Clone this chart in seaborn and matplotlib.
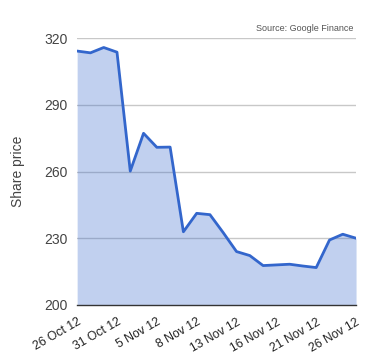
import matplotlib
matplotlib.use("Agg")
import matplotlib.pyplot as plt
import numpy as np
import pandas as pd
import seaborn as sns

sns.set_theme(style="white")
plt.rcParams['font.family'] = ['Liberation Sans', 'DejaVu Sans']

# trading days, labelled every third point
day_labels = ["26 Oct 12", "29 Oct 12", "30 Oct 12", "31 Oct 12", "1 Nov 12", "2 Nov 12",
              "5 Nov 12", "6 Nov 12", "7 Nov 12", "8 Nov 12", "9 Nov 12", "12 Nov 12",
              "13 Nov 12", "14 Nov 12", "15 Nov 12", "16 Nov 12", "19 Nov 12", "20 Nov 12",
              "21 Nov 12", "23 Nov 12", "24 Nov 12", "26 Nov 12"]
prices = [314.2, 313.4, 315.8, 313.7, 260.2, 277.2, 270.9, 271.0, 232.9, 241.2, 240.6,
          232.5, 224.0, 222.2, 217.7, 218.0, 218.3, 217.5, 216.8, 229.2, 231.8, 230.0]
y_ticks = [200, 230, 260, 290, 320]

df = pd.DataFrame({"idx": np.arange(len(prices)), "price": prices})

fig = plt.figure(figsize=(3.8, 3.6), dpi=100)
ax = fig.add_axes([0.203, 0.153, 0.734, 0.741])

for t in y_ticks[1:]:
    ax.axhline(t, color="#c8c8c8", lw=1, zorder=0)

ax.fill_between(df["idx"], 200, df["price"], color="#3366cc", alpha=0.3, lw=0, zorder=1)
sns.lineplot(data=df, x="idx", y="price", color="#3366cc", lw=2, ax=ax, zorder=2)

ax.set_xlim(0, len(prices) - 1)
ax.set_ylim(200, 320)
ax.set_yticks(y_ticks)
ax.set_yticklabels([str(t) for t in y_ticks], fontsize=10, color="#444444")
tick_pos = list(range(0, len(prices), 3))
ax.set_xticks(tick_pos)
ax.set_xticklabels([day_labels[i] for i in tick_pos], rotation=30, ha="right",
                   rotation_mode="anchor", fontsize=8.8, color="#222222")
ax.tick_params(axis="y", length=0, pad=7)
ax.tick_params(axis="x", length=0, pad=8)

for s in ["top", "right", "left"]:
    ax.spines[s].set_visible(False)
ax.spines["bottom"].set_color("#333333")
ax.spines["bottom"].set_linewidth(1)

ax.set_xlabel("")
ax.set_ylabel("Share price", fontsize=10, color="#444444", labelpad=14)

fig.text(0.93, 0.908, "Source: Google Finance", ha="right", va="bottom",
         fontsize=6.5, color="#555555")

fig.savefig("out.png", dpi=100)
